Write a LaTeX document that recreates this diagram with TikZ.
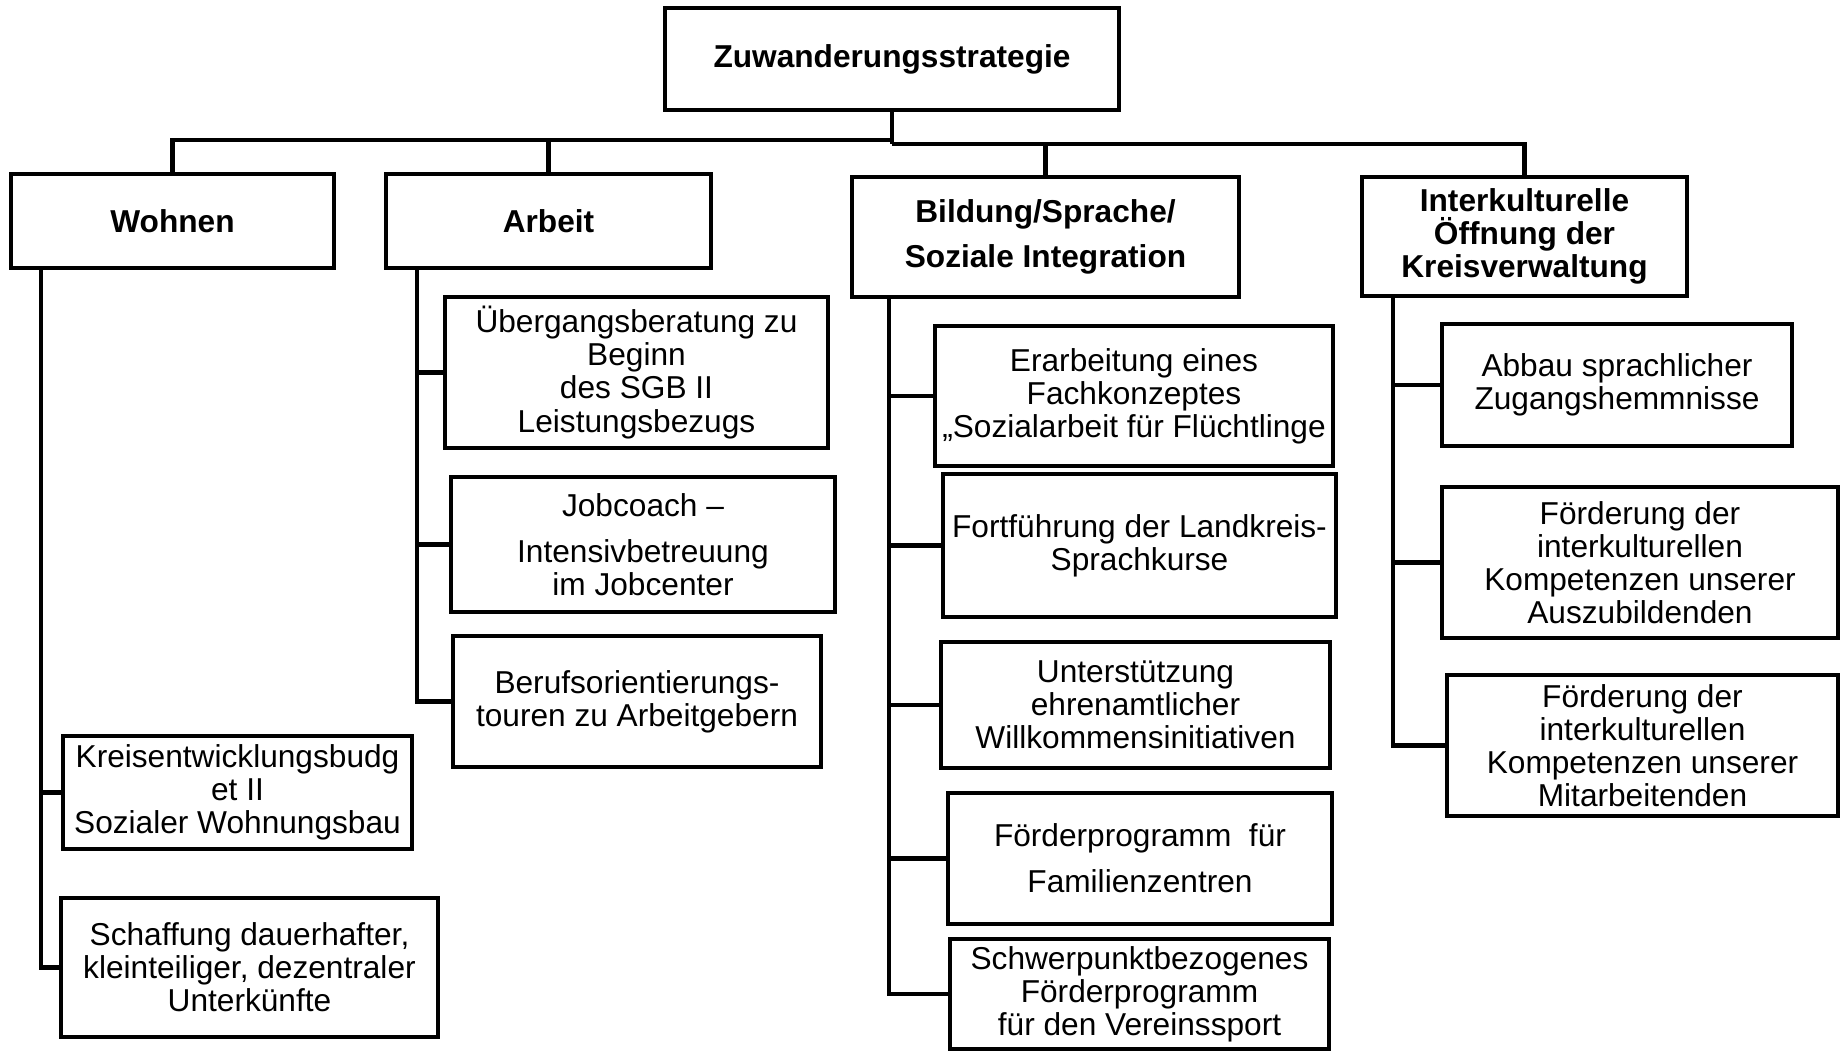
\documentclass[tikz,border=0pt]{standalone}
\usepackage{fontspec}
\setmainfont{Liberation Sans}

\begin{document}
\begin{tikzpicture}[x=0.01cm, y=-0.01cm,
    box/.style={draw, line width=1.2pt, align=center, inner sep=1pt,
        font=\fontsize{9}{9.4}\selectfont},
    head/.style={box, font=\fontsize{9}{9.4}\selectfont\bfseries},
    dim/.style 2 args={minimum width=#1cm, minimum height=#2cm},
    link/.style={line width=1.2pt}]
\useasboundingbox (0,0) rectangle (1841,1052);
% Draw top level
\node[head, dim={4.54}{1.02}] (top) at (892,59) {Zuwanderungsstrategie};
\node[head, dim={3.23}{0.94}] (wohnen) at (172.5,221) {Wohnen};
\node[head, dim={3.25}{0.94}] (arbeit) at (548.5,221) {Arbeit};
\node[head, dim={3.87}{1.20}] (bildung) at (1045.5,237) {Bildung/Sprache/\\[3.3pt]Soziale Integration};
\node[head, dim={3.25}{1.19}] (interk) at (1524.5,236.5) {Interkulturelle\\Öffnung der\\Kreisverwaltung};
% Draw Wohnen
\node[box, dim={3.49}{1.13}] (kreis) at (237.5,792.5) {Kreisentwicklungsbudg\\et II\\Sozialer Wohnungsbau};
\node[box, dim={3.77}{1.39}] (schaff) at (249.5,967.5) {Schaffung dauerhafter,\\kleinteiliger, dezentraler\\Unterkünfte};
% Draw Arbeit
\node[box, dim={3.83}{1.51}] (ueb) at (636.5,372.5) {Übergangsberatung zu\\Beginn\\des SGB II\\Leistungsbezugs};
\node[box, dim={3.84}{1.35}] (job) at (643,544.5) {Jobcoach –\\[3.7pt]Intensivbetreuung\\im Jobcenter};
\node[box, dim={3.68}{1.31}] (beruf) at (637,701.5) {Berufsorientierungs-\\touren zu Arbeitgebern};
% Draw Bildung
\node[box, dim={3.98}{1.40}] (erarb) at (1134,396) {Erarbeitung eines\\Fachkonzeptes\\„Sozialarbeit für Flüchtlinge};
\node[box, dim={3.93}{1.43}] (fort) at (1139.5,545.5) {Fortführung der Landkreis-\\Sprachkurse};
\node[box, dim={3.89}{1.26}] (unter) at (1135.5,705) {Unterstützung\\ehrenamtlicher\\Willkommensinitiativen};
\node[box, dim={3.84}{1.31}] (famz) at (1140,858.5) {Förderprogramm\ \ für\\[3.7pt]Familienzentren};
\node[box, dim={3.79}{1.10}] (sport) at (1139.5,994) {Schwerpunktbezogenes\\Förderprogramm\\für den Vereinssport};
% Draw Interkulturelle
\node[box, dim={3.50}{1.22}] (abbau) at (1617,385) {Abbau sprachlicher\\Zugangshemmnisse};
\node[box, dim={3.96}{1.51}] (azubi) at (1640,562.5) {Förderung der\\interkulturellen\\Kompetenzen unserer\\Auszubildenden};
\node[box, dim={3.91}{1.41}] (mitarb) at (1642.5,745.5) {Förderung der\\interkulturellen\\Kompetenzen unserer\\Mitarbeitenden};
% Draw bus
\coordinate (busl) at (892,140);
\coordinate (busr) at (892,144);
\draw[link] (top.south) -- (busr);
\foreach \c in {wohnen,arbeit}
    \draw[link] (\c.north) |- (busl);
\foreach \c in {bildung,interk}
    \draw[link] (\c.north) |- (busr);
% Draw branches
\coordinate (wt) at ([xshift=0.32cm]wohnen.south west);
\coordinate (at) at ([xshift=0.33cm]arbeit.south west);
\coordinate (bt) at ([xshift=0.39cm]bildung.south west);
\coordinate (it) at ([xshift=0.33cm]interk.south west);
\foreach \c in {kreis,schaff}
    \draw[link] (wt) |- (\c.west);
\foreach \c in {ueb,job,beruf}
    \draw[link] (at) |- (\c.west);
\foreach \c in {erarb,fort,unter,famz,sport}
    \draw[link] (bt) |- (\c.west);
\foreach \c in {abbau,azubi,mitarb}
    \draw[link] (it) |- (\c.west);
\end{tikzpicture}
\end{document}
